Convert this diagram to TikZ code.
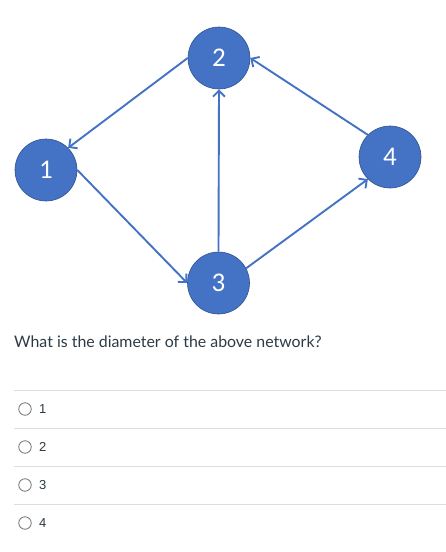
\documentclass[tikz,border=0pt]{standalone}
\usepackage{fontspec}
\setmainfont{Lato}
\newfontfamily\nodefont{Carlito}
\newfontfamily\optfont{Liberation Sans}
\usetikzlibrary{arrows.meta}
\definecolor{nodeblue}{HTML}{4472C4}
\definecolor{nodeedge}{HTML}{2F528F}
\definecolor{radiogray}{HTML}{777777}
\definecolor{sepgray}{HTML}{DDDDDD}
\definecolor{textgray}{HTML}{2D3B45}
\tikzset{
  vertex/.style={circle, fill=nodeblue, draw=nodeedge, line width=0.6pt, minimum size=62pt, inner sep=0pt, text=white, font=\nodefont\fontsize{27}{27}\selectfont},
  link/.style={draw=nodeblue, line width=1.9pt, -{Straight Barb[length=6pt,width=12pt,line width=1.9pt]}},
  radio/.style={circle, draw=radiogray, line width=0.8pt, minimum size=12.5pt, inner sep=0pt},
  optlabel/.style={anchor=west, inner sep=0pt, text=textgray, font=\optfont\fontsize{13}{13}\selectfont},
  sep/.style={draw=sepgray, line width=0.8pt},
  question/.style={anchor=west, inner sep=0pt, text=textgray, font=\fontsize{15.9}{16}\selectfont}
}
\begin{document}
\begin{tikzpicture}[x=1pt, y=-1pt]
\useasboundingbox[fill=white] (0,0) rectangle (446,552);
\node[vertex] (n1) at (46,170) {1};
\node[vertex] (n2) at (219,58) {2};
\node[vertex] (n3) at (218.5,283) {3};
\node[vertex] (n4) at (390,157) {4};
\draw[link] (n2.west) -- (n1.north east);
\draw[link] (n1.east) -- (n3.west);
\draw[link] (n3.north) -- (n2.south);
\draw[link] (n3.28) -- (n4.south west);
\draw[link] (n4.north west) -- (n2.east);
\node[question] (q) at (14,342) {What is the diameter of the above network?};
\coordinate (s1a) at (14,390); \coordinate (s1b) at (446,390);
\coordinate (s2a) at (14,428); \coordinate (s2b) at (446,428);
\coordinate (s3a) at (14,466); \coordinate (s3b) at (446,466);
\coordinate (s4a) at (14,504); \coordinate (s4b) at (446,504);
\draw[sep] (s1a) -- (s1b);
\draw[sep] (s2a) -- (s2b);
\draw[sep] (s3a) -- (s3b);
\draw[sep] (s4a) -- (s4b);
\node[radio] (r1) at (25,409) {};
\node[radio] (r2) at (25,447) {};
\node[radio] (r3) at (25,485) {};
\node[radio] (r4) at (25,523) {};
\node[optlabel] (o1) at (39,409) {1};
\node[optlabel] (o2) at (39,447) {2};
\node[optlabel] (o3) at (39,485) {3};
\node[optlabel] (o4) at (39,523) {4};
\end{tikzpicture}
\end{document}
